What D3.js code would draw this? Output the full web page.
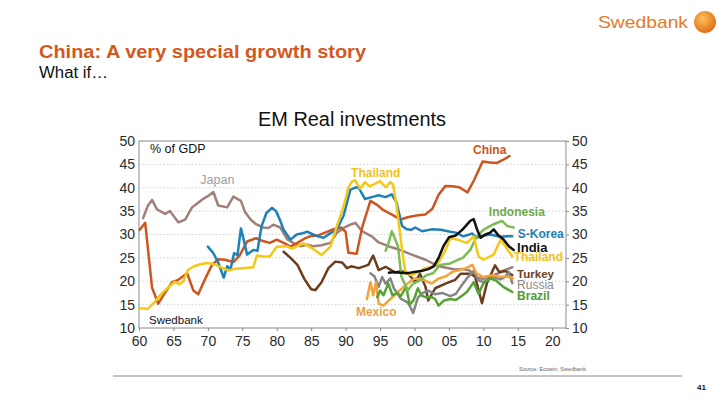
<!DOCTYPE html>
<html><head><meta charset="utf-8">
<script src="https://cdn.jsdelivr.net/npm/d3@7"></script>
<style>
html,body{margin:0;padding:0;background:#fff;}
svg{display:block;font-family:"Liberation Sans",Arial,sans-serif;}
</style></head>
<body>
<svg id="chart" width="720" height="405"></svg>
<script>
// ---- data: [year, % of GDP] ----
const china = [[1960.1,31],[1960.9,32.5],[1961.9,18.6],[1962.8,15.2],[1963.8,17.6],[1964.8,19.8],[1965.7,20.3],[1967,21.7],[1967.9,18],[1968.6,17.2],[1969.6,20.5],[1970.6,23.5],[1971.5,24.7],[1972.5,24.6],[1973.7,24.1],[1974.6,25.5],[1975.7,28.5],[1977,29.2],[1978,28.6],[1979,28.2],[1980,28.9],[1981,28.2],[1982,27.4],[1983,28.2],[1984,29.1],[1985,29.7],[1986,29.8],[1987,30.4],[1988,31],[1989.3,31.5],[1990,30.6],[1990.4,26.1],[1991.6,25.9],[1992.4,31.5],[1993.6,37.2],[1994.5,36.4],[1995.5,35.2],[1996.8,34.2],[1998,33.2],[1999,33.7],[2000.5,34.1],[2001.6,34.3],[2002.6,35.5],[2003.5,38.5],[2004.5,40.4],[2005.5,40.3],[2006.5,40.1],[2007.7,39],[2008.6,41.5],[2009.9,45.6],[2011,45.4],[2012,45.3],[2012.9,46],[2013.8,46.8]];
const japan = [[1960.6,33.5],[1961.3,36.2],[1961.9,37.4],[1962.6,35.4],[1963.8,34.4],[1964.5,35],[1965.7,32.6],[1966.7,33.2],[1967.7,35.8],[1968.4,36.6],[1969.2,37.5],[1970,38.2],[1970.8,39.1],[1971.5,36.2],[1972.8,35.8],[1973.7,38.1],[1974.8,37.2],[1975.4,34.8],[1976.2,33.2],[1977,32.2],[1978,31.5],[1978.8,31.4],[1979.5,32.1],[1980.5,31.5],[1981.5,29],[1982.5,28.1],[1983.4,27.5],[1984.4,27.8],[1985.3,27.5],[1986.5,27.7],[1987.8,28.2],[1988.7,30.3],[1989.7,31.4],[1990.7,32.1],[1991.4,32.5],[1992.4,30.7],[1993.8,29.6],[1994.8,28.3],[1996.2,27.5],[1997.7,26.8],[1999.6,25.7],[2001.6,24.6],[2003.5,23.2],[2005.9,22.5],[2007,22.6],[2008,22.3],[2009,20.8],[2010,20.5],[2011,21],[2012,21.6],[2013,22.3],[2014.2,23]];
const korea = [[1970,27.4],[1970.8,26],[1971.5,24],[1972.3,20.8],[1972.8,23.2],[1973.3,22.6],[1973.8,26],[1974.3,25.6],[1974.8,31.3],[1975.2,28.9],[1975.7,25.7],[1976.6,26.7],[1977.2,26.5],[1977.8,31.8],[1978.5,34.6],[1979.3,35.7],[1979.9,35],[1980.5,33],[1981,31],[1982,28.9],[1982.9,30],[1983.6,30.2],[1984.4,30.6],[1985.3,30],[1986,29.6],[1986.8,29.3],[1987.8,30.3],[1988.7,31],[1989.7,34],[1990.7,39.6],[1991.5,40.1],[1991.9,40],[1992.8,37.6],[1993.8,38],[1994.8,38.4],[1995.8,38],[1996.7,38.6],[1997.4,36.8],[1998.2,31.8],[1998.9,31.1],[1999.5,31],[2000.1,31.5],[2001.1,30.7],[2002.5,31.1],[2003.8,31],[2005.2,30.6],[2006,30.4],[2007.1,29.6],[2008.4,30.2],[2009,29.3],[2010,29.8],[2011,30],[2012.5,29.5],[2013.5,29.6],[2014.2,29.6]];
const thailand = [[1960,14.2],[1961.3,14.1],[1962.3,15.6],[1963.3,17.4],[1964.2,18.6],[1965.2,19.9],[1965.8,19.4],[1966.4,19.9],[1967.1,22.4],[1968,23.2],[1969,23.7],[1970,23.9],[1971,23.6],[1972,22.9],[1973,22.3],[1974,22.7],[1975,22.8],[1976.6,23],[1977.1,25.5],[1978,25.3],[1979,25.3],[1980,27.4],[1981.4,27.5],[1982.2,27],[1983.9,28.1],[1985.1,27.1],[1986.5,25.6],[1987.8,27.4],[1988.7,31.7],[1989.7,36],[1990.4,40],[1990.9,41.3],[1991.4,41.6],[1992.1,39.8],[1992.8,41.2],[1993.5,40.3],[1994.3,40.9],[1995,41.4],[1995.8,40.1],[1996.5,41.2],[1996.9,40.6],[1997.4,36.2],[1998.2,26.7],[1998.7,21.7],[1999.6,21.3],[2000.6,22],[2001.6,22.8],[2002.5,23.1],[2003.5,24],[2004.5,26.7],[2005.2,29.2],[2006.2,28.9],[2007.6,28.2],[2008.6,29.6],[2009.3,25.3],[2010,24.6],[2011.5,25.7],[2012.5,28.9],[2013.2,27.5],[2014.2,25.3]];
const india = [[1996.3,21.8],[1997,22],[1998,21.8],[1999,21.7],[2000,22],[2001,22.2],[2002,22.6],[2002.8,23.2],[2003.5,25],[2004.2,27.5],[2005,29.4],[2006,29.8],[2007,31.1],[2008.1,32.9],[2008.6,33.3],[2009.1,31],[2009.6,29.3],[2010.3,30],[2011,30.4],[2011.5,31.1],[2012.2,29.8],[2012.9,29],[2013.7,27.5],[2014.4,26.7]];
const indonesia = [[1995.8,26.5],[1996.3,28.5],[1996.7,30.7],[1997.2,29],[1997.6,27.5],[1998.1,21],[1999,18],[1999.8,19.5],[2000.8,20.2],[2001.7,21.3],[2002.7,21.7],[2003.7,23.5],[2005.2,23.8],[2006.2,24.5],[2007,25],[2008.1,26.7],[2009,29.5],[2010,31],[2011.5,32.2],[2012.7,32.9],[2013.5,31.8],[2014.4,31.5]];
const turkey = [[1981,26.3],[1982,25],[1983,23.5],[1984,20.5],[1985,18.3],[1985.6,18.1],[1986.5,19.8],[1987.5,22.8],[1988.5,24.2],[1989.5,24],[1990.2,22.8],[1990.8,23.2],[1991.9,22.8],[1993.3,23.5],[1994,25.5],[1994.8,22.4],[1995.8,23.1],[1996.5,22.5],[1997.2,21.8],[1998,22.2],[1999,21.8],[2000.1,19.8],[2000.8,21.6],[2001.6,18.8],[2002,15.9],[2003,18.5],[2004.5,19.5],[2005.9,20.3],[2006.7,21.6],[2008.1,21.6],[2008.8,21],[2009.8,15.3],[2010.5,19.5],[2011.7,23.4],[2012.3,22],[2013.2,22.2],[2014.2,21.3]];
const russia = [[1993.6,21.7],[1994.2,21],[1994.8,18.8],[1995.3,20.9],[1995.8,19.5],[1996.5,20.6],[1997,18.5],[1998,16.3],[1999,15.5],[1999.4,14.5],[1999.8,13.2],[2000.5,16.5],[2001.2,17.5],[2002,18],[2003,17.2],[2004,17.5],[2005.2,16.8],[2006,17.3],[2006.7,18.8],[2007.6,20.6],[2008.6,22.2],[2009.3,20.2],[2010,19.8],[2011,20.6],[2011.5,20.9],[2012.5,20.4],[2013.2,21],[2013.7,22],[2014.2,19.6]];
const mexico = [[1993.1,16.2],[1993.6,19.8],[1994,17],[1994.4,19.8],[1994.8,15.2],[1995.5,14.8],[1996.5,16.2],[1997.8,18],[1999,19.5],[2000,20.6],[2001.5,20.2],[2002.5,19.5],[2003.5,20.6],[2004.5,21],[2005.5,22],[2006.5,22.4],[2007.5,22.8],[2008.4,23.5],[2009,21.7],[2010,20.9],[2011.3,21.3],[2012.5,20.9],[2013.5,21],[2014.3,20.6]];
const brazil = [[1994.6,16.6],[1995,18],[1995.5,17],[1996.2,19.5],[1996.8,17],[1997.5,17.5],[1998,16.8],[1998.8,18.8],[1999.3,15],[1999.9,16],[2000.5,18.5],[2001,17],[2001.6,16.6],[2002.5,16.6],[2003,16.2],[2003.5,14.8],[2004.3,15.9],[2005.2,16.2],[2006,16],[2006.8,16.8],[2007.6,17.7],[2008.6,19.8],[2009.3,17.3],[2010,19.5],[2011,20.6],[2011.8,20.2],[2012.9,18.8],[2014.2,17.7]];

const yTicks = [10,15,20,25,30,35,40,45,50];
const xTicks = [1960,1965,1970,1975,1980,1985,1990,1995,2000,2005,2010,2015,2020];
const xTickLabels = ["60","65","70","75","80","85","90","95","00","05","10","15","20"];

const seriesNames = ["Japan","China","S-Korea","Turkey","Russia","Mexico","Brazil","Indonesia","Thailand","India"];
const seriesData = [japan,china,korea,turkey,russia,mexico,brazil,indonesia,thailand,india];
const seriesColors = ["#a08078","#cc5520","#1f80b8","#6b3e1e","#858585","#f2a33a","#55a335","#7dbb55","#f5c816","#111111"];

// series labels: text, anchor year / value (data space, left baseline), colour, weight, size
const labelText  = ["China","Japan","Thailand","Indonesia","S-Korea","India","Thailand","Turkey","Russia","Brazil","Mexico"];
const labelYear  = [2008.5,1968.9,1990.8,2010.8,2015.0,2014.9,2014.4,2014.9,2014.9,2014.9,1991.5];
const labelVal   = [47.2,40.9,42.3,34.0,29.2,26.3,24.4,20.7,18.4,16.0,12.6];
const labelColor = ["#cc5520","#a0a0a0","#f2c21a","#6cab48","#1f80b8","#111111","#f2c21a","#6b3e1e","#8a8a8a","#4f9e30","#eda040"];
const labelBold  = [1,0,1,1,1,1,1,1,0,1,1];
const labelSize  = [12,12.5,12,12,12,13,12,11.5,12,12,12];

// ---- drawing ----
const svg = d3.select("#chart");
const x = d3.scaleLinear().domain([1960,2022]).range([139,566]);
const y = d3.scaleLinear().domain([10,50]).range([328,141]);

// header
svg.append("text").attr("x",39).attr("y",58).attr("fill","#d4581c")
  .attr("font-size",18).attr("font-weight","bold")
  .attr("textLength",327).attr("lengthAdjust","spacingAndGlyphs")
  .text("China: A very special growth story");
svg.append("text").attr("x",39).attr("y",78).attr("fill","#111")
  .attr("font-size",16).attr("textLength",69).attr("lengthAdjust","spacingAndGlyphs")
  .text("What if…");

// logo
const grad = svg.append("defs").append("radialGradient").attr("id","lg").attr("cx","40%").attr("cy","35%").attr("r","70%");
grad.append("stop").attr("offset","0%").attr("stop-color","#fbc060");
grad.append("stop").attr("offset","100%").attr("stop-color","#e06a10");
svg.append("text").attr("x",598).attr("y",28).attr("fill","#e47a2a")
  .attr("font-size",17).attr("textLength",90).attr("lengthAdjust","spacingAndGlyphs")
  .text("Swedbank");
svg.append("circle").attr("cx",705).attr("cy",22).attr("r",11).attr("fill","url(#lg)");

// chart title
svg.append("text").attr("x",258).attr("y",126).attr("fill","#111")
  .attr("font-size",19.5).attr("textLength",188).attr("lengthAdjust","spacingAndGlyphs")
  .text("EM Real investments");

// gridlines
svg.append("g").selectAll("line").data(yTicks.filter(d=>d>10 && d<50)).join("line")
  .attr("x1",x(1960)).attr("x2",x(2022)).attr("y1",d=>y(d)).attr("y2",d=>y(d))
  .attr("stroke","#c8c8c8").attr("stroke-width",0.8).attr("stroke-dasharray","1.5,2");

// frame
svg.append("rect").attr("x",x(1960)).attr("y",y(50)).attr("width",x(2022)-x(1960)).attr("height",y(10)-y(50))
  .attr("fill","none").attr("stroke","#8a8a8a").attr("stroke-width",1);

// axes
const axL = svg.append("g").attr("transform",`translate(${x(1960)},0)`)
  .call(d3.axisLeft(y).tickValues(yTicks).tickSize(0).tickPadding(4).tickFormat(d3.format("d")));
const axR = svg.append("g").attr("transform",`translate(${x(2022)},0)`)
  .call(d3.axisRight(y).tickValues(yTicks).tickSize(3).tickPadding(3).tickFormat(d3.format("d")));
const axB = svg.append("g").attr("transform",`translate(0,${y(10)})`)
  .call(d3.axisBottom(x).tickValues(xTicks).tickSize(3).tickPadding(5).tickFormat((d,i)=>xTickLabels[i]));
[axL,axR,axB].forEach(a=>{
  a.select(".domain").remove();
  a.selectAll("line").attr("stroke","#8a8a8a");
  a.selectAll("text").attr("font-size",14).attr("fill","#2a2a2a").attr("font-family","Liberation Sans, Arial, sans-serif");
});

// lines
const line = d3.line().x(d=>x(d[0])).y(d=>y(d[1]));
svg.append("g").selectAll("path").data(seriesData).join("path")
  .attr("d",line).attr("fill","none")
  .attr("stroke",(d,i)=>seriesColors[i]).attr("stroke-width",2.5)
  .attr("stroke-linejoin","round").attr("stroke-linecap","round");

// inner texts
svg.append("text").attr("x",150).attr("y",153).attr("font-size",12.5).attr("fill","#111").text("% of GDP");
svg.append("text").attr("x",149).attr("y",324).attr("font-size",11.5).attr("fill","#111").text("Swedbank");

// series labels
svg.append("g").selectAll("text").data(labelText).join("text")
  .attr("x",(d,i)=>x(labelYear[i]))
  .attr("y",(d,i)=>y(labelVal[i]))
  .attr("font-size",(d,i)=>labelSize[i])
  .attr("font-weight",(d,i)=>labelBold[i]?"bold":"normal")
  .attr("fill",(d,i)=>labelColor[i])
  .text(d=>d);

// footer
svg.append("text").attr("x",519).attr("y",371).attr("font-size",5.5).attr("fill","#666").text("Source: Ecowin, Swedbank");
svg.append("line").attr("x1",113).attr("x2",682).attr("y1",376).attr("y2",376).attr("stroke","#8a8a8a").attr("stroke-width",1);
svg.append("text").attr("x",697).attr("y",390).attr("font-size",8).attr("font-weight","bold").attr("fill","#111").text("41");
</script>
</body></html>
